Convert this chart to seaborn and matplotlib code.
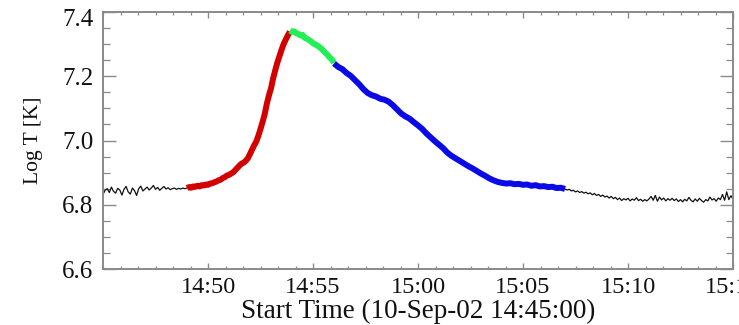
import numpy as np
import pandas as pd
import matplotlib
matplotlib.use("Agg")
import matplotlib.pyplot as plt
import matplotlib.transforms as mtransforms
from matplotlib.ticker import FixedLocator, MultipleLocator
import seaborn as sns

# Log temperature light curve, minutes after 10-Sep-02 14:45:00
CADENCE_FINE = 0.1     # min between samples, noisy segments and rise/peak
CADENCE_DECAY = 0.2    # min between samples, decay segment

pre_start = 0.0
pre_logT = [6.832, 6.845, 6.850, 6.838, 6.855, 6.842, 6.836, 6.851, 6.846, 6.830,
            6.848, 6.857, 6.840, 6.833, 6.852, 6.844, 6.829, 6.850, 6.858, 6.843,
            6.849, 6.855, 6.846, 6.852, 6.860, 6.848, 6.854, 6.845, 6.851, 6.857,
            6.849, 6.853, 6.847, 6.850, 6.852, 6.848, 6.851, 6.849, 6.852, 6.850,
            6.852]

rise_start = 4.0
rise_logT = [6.852, 6.855, 6.853, 6.857, 6.856, 6.859, 6.857, 6.861, 6.860, 6.863,
             6.862, 6.866, 6.867, 6.870, 6.872, 6.876, 6.878, 6.883, 6.886, 6.891,
             6.893, 6.897, 6.901, 6.908, 6.915, 6.922, 6.928, 6.931, 6.937, 6.945,
             6.958, 6.972, 6.985, 6.997, 7.015, 7.036, 7.058, 7.082, 7.114, 7.140,
             7.162, 7.193, 7.218, 7.242, 7.262, 7.282, 7.300, 7.314, 7.327, 7.339]

peak_start = 8.9
peak_logT = [7.342, 7.338, 7.340, 7.334, 7.332, 7.327, 7.329, 7.320, 7.317, 7.313,
             7.309, 7.303, 7.299, 7.296, 7.291, 7.286, 7.279, 7.272, 7.266, 7.258,
             7.252, 7.242]

decay_start = 11.0
decay_logT = [7.240, 7.229, 7.222, 7.210, 7.201, 7.188, 7.175, 7.160, 7.148, 7.141,
              7.137, 7.130, 7.127, 7.121, 7.110, 7.097, 7.084, 7.075, 7.068, 7.057,
              7.047, 7.036, 7.022, 7.010, 6.998, 6.987, 6.976, 6.962, 6.952, 6.944,
              6.936, 6.928, 6.920, 6.913, 6.905, 6.897, 6.890, 6.882, 6.876, 6.871,
              6.868, 6.866, 6.867, 6.864, 6.865, 6.862, 6.863, 6.859, 6.861, 6.857,
              6.858, 6.855, 6.856, 6.852, 6.853, 6.849]

post_start = 22.0
post_logT = [6.849, 6.846, 6.848, 6.843, 6.845, 6.840, 6.843, 6.838, 6.841, 6.836,
             6.839, 6.834, 6.837, 6.831, 6.835, 6.829, 6.832, 6.826, 6.830, 6.824,
             6.827, 6.821, 6.826, 6.819, 6.823, 6.816, 6.821, 6.813, 6.819, 6.815,
             6.820, 6.812, 6.818, 6.814, 6.822, 6.813, 6.817, 6.811, 6.816, 6.812,
             6.818, 6.826, 6.814, 6.829, 6.811, 6.824, 6.815, 6.821, 6.812, 6.819,
             6.814, 6.820, 6.813, 6.818, 6.810, 6.816, 6.809, 6.817, 6.812, 6.823,
             6.814, 6.809, 6.818, 6.811, 6.820, 6.813, 6.808, 6.816, 6.812, 6.824,
             6.815, 6.819, 6.811, 6.821, 6.816, 6.832, 6.814, 6.840, 6.816, 6.828,
             6.818]

tick_minutes = [5, 10, 15, 20, 25, 30]
tick_labels = ["14:50", "14:55", "15:00", "15:05", "15:10", "15:15"]
ytick_values = [6.6, 6.8, 7.0, 7.2, 7.4]


def segment(name, start, cadence, values):
    t = start + cadence * np.arange(len(values))
    return pd.DataFrame({"minutes": t, "logT": values, "phase": name})


segments = [
    (segment("pre", pre_start, CADENCE_FINE, pre_logT), "#111111", 0.9),
    (segment("post", post_start, CADENCE_FINE, post_logT), "#111111", 0.9),
    (segment("rise", rise_start, CADENCE_FINE, rise_logT), "#d40000", 4.3),
    (segment("peak", peak_start, CADENCE_FINE, peak_logT), "#22ee55", 4.3),
    (segment("decay", decay_start, CADENCE_DECAY, decay_logT), "#0a0ae6", 4.3),
]

sns.set_style("white")
plt.rcParams["font.family"] = ["Liberation Serif"]

fig = plt.figure(figsize=(7.39, 3.25), dpi=100)
ax = fig.add_axes([103 / 739, 1 - 269 / 325, 630 / 739, 257 / 325])

for df, color, lw in segments:
    sns.lineplot(data=df, x="minutes", y="logT", color=color, lw=lw,
                 estimator=None, sort=True, ax=ax, solid_capstyle="butt")

ax.set_xlim(0, 30)
ax.set_ylim(6.6, 7.4)
ax.xaxis.set_major_locator(FixedLocator(tick_minutes))
ax.set_xticklabels(tick_labels)
ax.xaxis.set_minor_locator(MultipleLocator(5 / 6))
ax.yaxis.set_major_locator(FixedLocator(ytick_values))
ax.set_yticklabels([f"{v:.1f}" for v in ytick_values])
ax.yaxis.set_minor_locator(MultipleLocator(0.05))

frame = "#8a8a8a"
for sp in ax.spines.values():
    sp.set_color(frame)
    sp.set_linewidth(1.4)

ax.tick_params(axis="x", which="major", direction="in", length=4.2, width=1.0,
               color=frame, top=True, bottom=True, labelsize=17.5, pad=6,
               labelcolor="#111111")
ax.tick_params(axis="x", which="minor", direction="in", length=2.2, width=0.9,
               color=frame, top=True, bottom=True)
ax.tick_params(axis="y", which="major", direction="in", length=9.5, width=1.0,
               color=frame, left=True, right=True, labelsize=18, pad=7,
               labelcolor="#111111")
ax.tick_params(axis="y", which="minor", direction="in", length=5.0, width=0.9,
               color=frame, left=True, right=True)

ax.set_xlabel("Start Time (10-Sep-02 14:45:00)", fontsize=19.5, color="#111111",
              labelpad=0.5)
ax.set_ylabel("Log T [K]", fontsize=15.5, color="#111111", labelpad=14)

# nudge the top y label down so it sits inside the figure
for lab in ax.get_yticklabels():
    if lab.get_text() == "7.4":
        lab.set_transform(lab.get_transform() +
                          mtransforms.ScaledTranslation(0, -5 / 100, fig.dpi_scale_trans))

fig.savefig("out.png", dpi=100)
